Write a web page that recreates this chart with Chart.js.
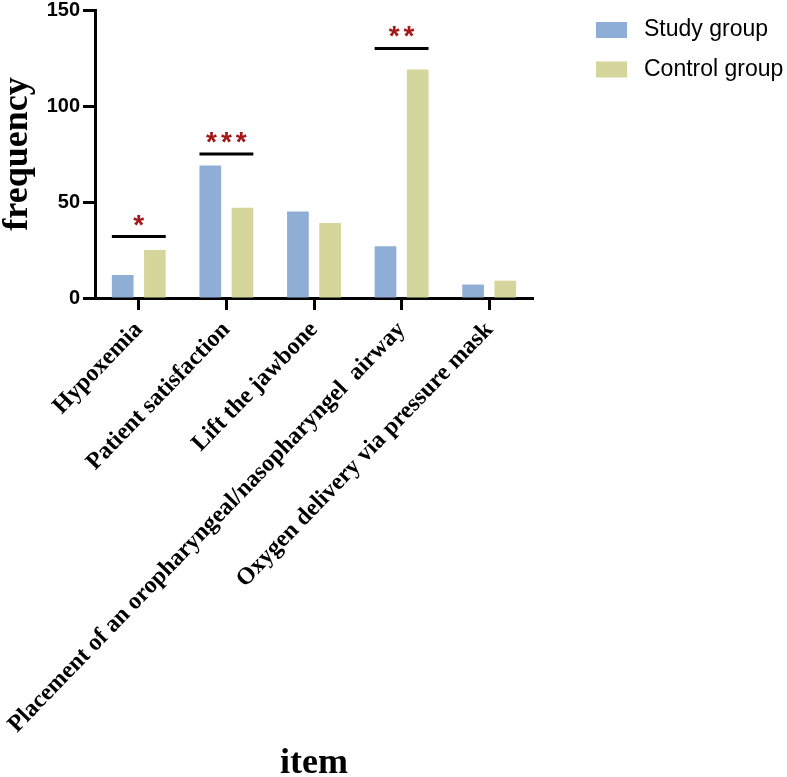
<!DOCTYPE html>
<html lang="en">
<head>
    <meta charset="UTF-8">
    <title>Study vs Control frequency</title>
    <script src="https://cdn.jsdelivr.net/npm/chart.js"></script>
    <style>
        body {
            margin: 0;
            background-color: #ffffff;
        }
        .chart-box {
            width: 787px;
            height: 777px;
        }
    </style>
</head>
<body>
    <div class="chart-box">
        <canvas id="freqChart"></canvas>
    </div>

    <script>
        // Data
        const categories = [
            'Hypoxemia',
            'Patient satisfaction',
            'Lift the jawbone',
            'Placement of an oropharyngeal/nasopharyngel  airway',
            'Oxygen delivery via pressure mask'
        ];
        const studyGroup = [12, 69, 45, 27, 7];
        const controlGroup = [25, 47, 39, 119, 9];
        const yTicks = [0, 50, 100, 150];

        // Significance brackets: category index, bracket height, stars
        const sigIndex = [0, 1, 3];
        const sigLevel = [32, 75, 130];
        const sigStars = ['*', '***', '**'];

        const serif = 'Liberation Serif, Times New Roman, serif';
        const sans = 'Liberation Sans, Arial, sans-serif';

        // Lines and stars above compared bar pairs
        const sigPlugin = {
            id: 'sigPlugin',
            afterDatasetsDraw: (chart) => {
                const ctx = chart.ctx;
                const yAxis = chart.scales.y;
                const m0 = chart.getDatasetMeta(0);
                const m1 = chart.getDatasetMeta(1);
                ctx.save();
                sigIndex.forEach((idx, k) => {
                    const b0 = m0.data[idx];
                    const b1 = m1.data[idx];
                    const x1 = b0.x - b0.width / 2;
                    const x2 = b1.x + b1.width / 2;
                    const y = yAxis.getPixelForValue(sigLevel[k]);
                    ctx.strokeStyle = '#000000';
                    ctx.lineWidth = 3;
                    ctx.beginPath();
                    ctx.moveTo(x1, y);
                    ctx.lineTo(x2, y);
                    ctx.stroke();

                    ctx.fillStyle = '#A31919';
                    ctx.font = 'bold 28px ' + sans;
                    ctx.letterSpacing = '4px';
                    ctx.textAlign = 'center';
                    ctx.textBaseline = 'alphabetic';
                    ctx.fillText(sigStars[k], (x1 + x2) / 2 + 2, y - 3);
                });
                ctx.restore();
            }
        };

        // Legend in the right margin
        const legendPlugin = {
            id: 'legendPlugin',
            afterDraw: (chart) => {
                const ctx = chart.ctx;
                ctx.save();
                ctx.font = '23px ' + sans;
                ctx.textBaseline = 'middle';
                ctx.textAlign = 'left';
                chart.data.datasets.forEach((ds, i) => {
                    const top = 22 + i * 39.5;
                    ctx.fillStyle = ds.backgroundColor;
                    ctx.fillRect(596, top, 31, 16);
                    ctx.fillStyle = '#000000';
                    ctx.fillText(ds.label, 644, top + 8);
                });
                ctx.restore();
            }
        };

        const config = {
            type: 'bar',
            data: {
                labels: categories,
                datasets: [
                    {
                        label: 'Study group',
                        data: studyGroup,
                        backgroundColor: '#8FAED5'
                    },
                    {
                        label: 'Control group',
                        data: controlGroup,
                        backgroundColor: '#D5D69B'
                    }
                ]
            },
            options: {
                responsive: true,
                maintainAspectRatio: false,
                animation: false,
                layout: {
                    padding: { top: 10, right: 254, bottom: 0, left: 0 }
                },
                datasets: {
                    bar: {
                        categoryPercentage: 0.735,
                        barPercentage: 0.674
                    }
                },
                plugins: {
                    legend: { display: false },
                    tooltip: { enabled: false }
                },
                scales: {
                    x: {
                        afterFit: (s) => { s.height = 479; },
                        ticks: {
                            autoSkip: false,
                            minRotation: 46,
                            maxRotation: 46,
                            padding: 6,
                            color: '#000000',
                            font: { family: serif, size: 24, weight: 'bold' }
                        },
                        grid: {
                            offset: false,
                            drawOnChartArea: false,
                            drawTicks: true,
                            tickLength: 12,
                            tickWidth: 3,
                            tickColor: '#000000'
                        },
                        border: { color: '#000000', width: 3 },
                        title: {
                            display: true,
                            text: 'item',
                            color: '#000000',
                            font: { family: serif, size: 36, weight: 'bold', lineHeight: 0.75 },
                            padding: { top: 0, bottom: 0 }
                        }
                    },
                    y: {
                        min: 0,
                        max: 150,
                        afterFit: (s) => {
                            s.width = 95;
                            s.paddingTop = 0;
                        },
                        afterBuildTicks: (s) => {
                            s.ticks = yTicks.map(v => ({ value: v }));
                        },
                        ticks: {
                            padding: 3,
                            color: '#000000',
                            font: { family: sans, size: 20, weight: 'bold' }
                        },
                        grid: {
                            drawOnChartArea: false,
                            drawTicks: true,
                            tickLength: 12,
                            tickWidth: 3,
                            tickColor: '#000000'
                        },
                        border: { color: '#000000', width: 3 },
                        title: {
                            display: true,
                            text: 'frequency',
                            color: '#000000',
                            font: { family: serif, size: 36, weight: 'bold', lineHeight: 1 },
                            padding: { top: 0, bottom: 0 }
                        }
                    }
                }
            },
            plugins: [sigPlugin, legendPlugin]
        };

        new Chart(document.getElementById('freqChart'), config);
    </script>
</body>
</html>
